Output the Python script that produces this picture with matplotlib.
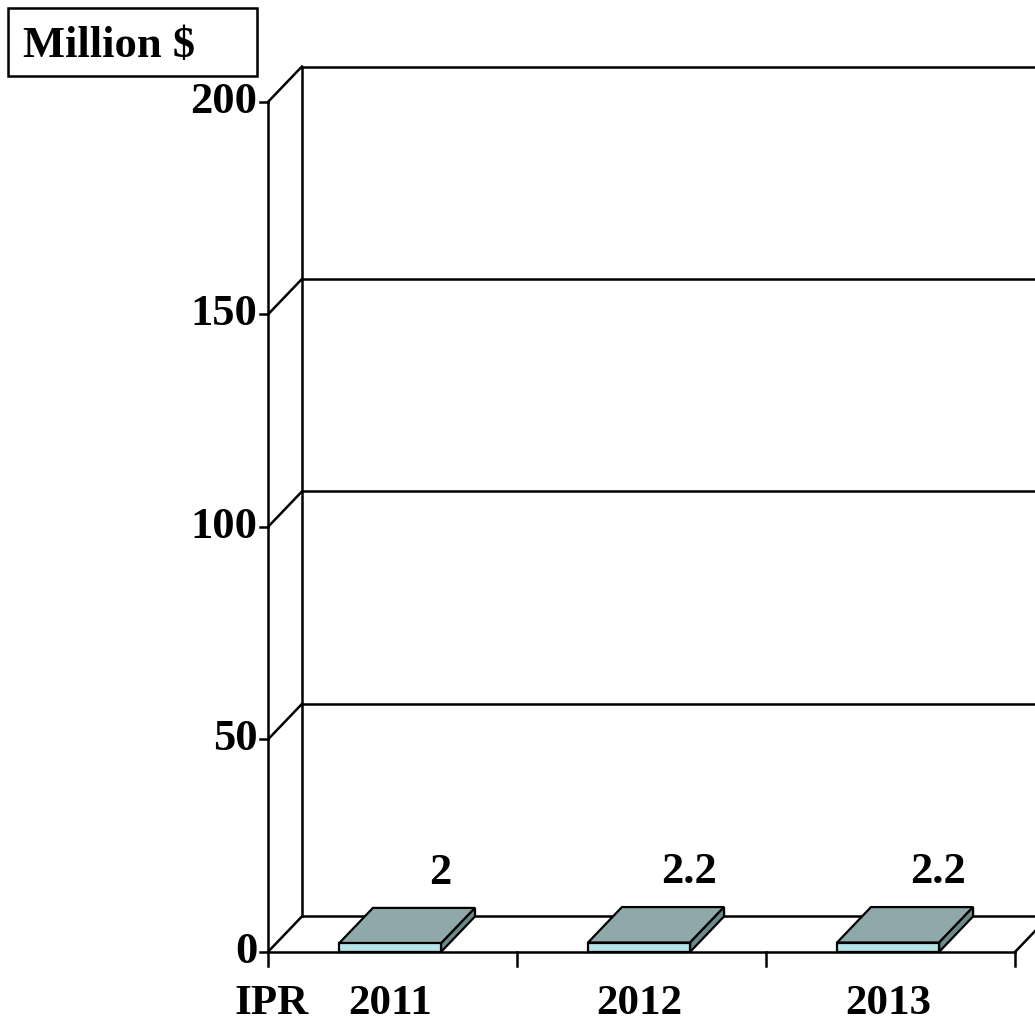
import matplotlib.pyplot as plt
from matplotlib.patches import Polygon, Rectangle

years = ['2011', '2012', '2013']
values = [2, 2.2, 2.2]
value_labels = ['2', '2.2', '2.2']
yticks = [0, 50, 100, 150, 200]

plt.rcParams['font.family'] = 'Liberation Serif'
plt.rcParams['font.weight'] = 'bold'

fig = plt.figure(figsize=(10.35, 10.25), dpi=100)
ax = fig.add_axes([0, 0, 1, 1])
ax.set_xlim(-1.076, 3.080)
ax.set_ylim(-17.2, 224.0)
ax.axis('off')

dx, dy = 0.1364, 8.35   # depth of the 3-D box
n = len(years)
xr = 3.3                # back wall runs off the right edge
lw = 1.8
k = 'black'

# back wall gridlines, left wall diagonals and y ticks
for t in yticks:
    ax.plot([dx, xr], [t + dy, t + dy], color=k, lw=lw, zorder=1)
    ax.plot([0, dx], [t, t + dy], color=k, lw=lw, zorder=1)
    ax.plot([-0.032, 0], [t, t], color=k, lw=lw, zorder=1)
    ax.text(-0.042, t, str(t), ha='right', va='center', fontsize=32)

ax.plot([dx, dx], [dy, yticks[-1] + dy], color=k, lw=lw, zorder=1)
ax.plot([0, 0], [-3.3, yticks[-1]], color=k, lw=lw, zorder=1)

# floor front edge, right edge and category ticks
ax.plot([0, n], [0, 0], color=k, lw=lw, zorder=1)
ax.plot([n, n + dx], [0, dy], color=k, lw=lw, zorder=1)
for i in range(1, n + 1):
    ax.plot([i, i], [0, -3.3], color=k, lw=lw, zorder=1)

# flat 3-D bars
w = 0.41
for i, (v, lab) in enumerate(zip(values, value_labels)):
    x0 = i + 0.49 - w / 2
    ax.add_patch(Polygon([(x0, v), (x0 + w, v), (x0 + w + dx, v + dy), (x0 + dx, v + dy)],
                         closed=True, fc='#8fa9aa', ec=k, lw=1.6, zorder=3))
    ax.add_patch(Polygon([(x0 + w, 0), (x0 + w + dx, dy), (x0 + w + dx, v + dy), (x0 + w, v)],
                         closed=True, fc='#6b8a8a', ec=k, lw=1.6, zorder=3))
    ax.add_patch(Rectangle((x0, 0), w, v, fc='#b8e4e8', ec=k, lw=1.6, zorder=4))
    ax.text(i + 0.69, v + 16.5, lab, ha='center', va='center', fontsize=32)
    ax.text(i + 0.49, -12.2, years[i], ha='center', va='center', fontsize=31)

ax.text(0.015, -12.2, 'IPR', ha='center', va='center', fontsize=31)

# unit caption box
fig.patches.append(Rectangle((8 / 1035, 1 - 76 / 1025), 249 / 1035, 68 / 1025,
                             transform=fig.transFigure, fc='white', ec=k, lw=1.8))
fig.text(23 / 1035, 1 - 46 / 1025, 'Million $', ha='left', va='center', fontsize=32)

fig.savefig('out.png', dpi=100)
